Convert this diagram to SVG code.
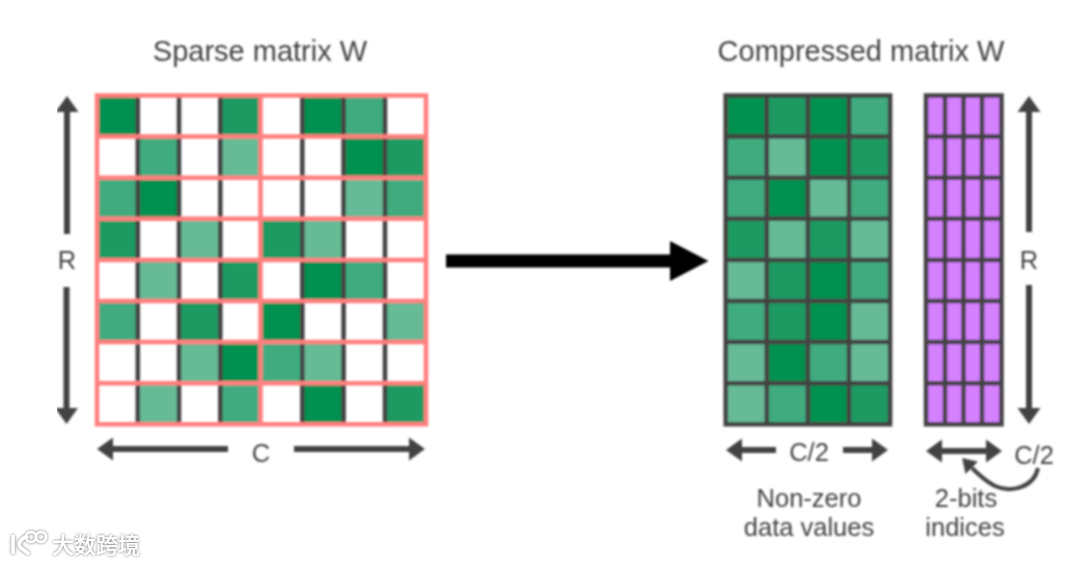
<svg xmlns="http://www.w3.org/2000/svg" width="1080" height="565" viewBox="0 0 1080 565">
<style>
text{font-family:"Liberation Sans",Arial,sans-serif;fill:#434343;text-anchor:middle}
.t{font-size:29px}.l{font-size:25.500px}
.a{fill:#00904f}.b{fill:#1a9a62}.c{fill:#40ab7f}.d{fill:#66ba96}.p{fill:#d580ff}
.g rect{width:41.2px;height:41.2px}
.dk{stroke:#434343;stroke-width:4.500;fill:none}
.pk{stroke:#ff7f7f;stroke-width:4.500;fill:none}
.ar{stroke:#434343;stroke-width:6;fill:none}
.wm{font-size:22px;fill:#fff;font-family:"Noto Sans CJK SC",sans-serif;font-weight:500}
</style>
<defs>
<marker id="h" markerUnits="userSpaceOnUse" markerWidth="18" markerHeight="26" viewBox="0 -13 18 26" refX="0" refY="0" orient="auto-start-reverse"><path d="M0-11.500L16 0L0 11.500Z" fill="#434343"/></marker>
<marker id="hs" markerUnits="userSpaceOnUse" markerWidth="18" markerHeight="22" viewBox="0 -11 18 22" refX="0" refY="0" orient="auto"><path d="M0-9L14 0L0 9Z" fill="#434343"/></marker>
<filter id="blur" x="0" y="0" width="1" height="1"><feGaussianBlur stdDeviation="0.8"/></filter>
<filter id="wms" x="-10%" y="-20%" width="120%" height="140%"><feDropShadow dx="0" dy="0" stdDeviation="1.500" flood-color="#666" flood-opacity="1"/></filter>
</defs>
<rect width="1080" height="565" fill="#fff"/>
<g filter="url(#blur)">
<g id="sparse-matrix">
<text class="t" x="260" y="61">Sparse matrix W</text>
<g class="g">
<rect class="a" x="97" y="95.500"/><rect class="b" x="220" y="95.500"/><rect class="a" x="302" y="95.500"/><rect class="c" x="343" y="95.500"/>
<rect class="c" x="138" y="136.600"/><rect class="d" x="220" y="136.600"/><rect class="a" x="343" y="136.600"/><rect class="b" x="384" y="136.600"/>
<rect class="c" x="97" y="177.700"/><rect class="a" x="138" y="177.700"/><rect class="d" x="343" y="177.700"/><rect class="c" x="384" y="177.700"/>
<rect class="b" x="97" y="218.800"/><rect class="d" x="179" y="218.800"/><rect class="b" x="261" y="218.800"/><rect class="d" x="302" y="218.800"/>
<rect class="d" x="138" y="259.900"/><rect class="b" x="220" y="259.900"/><rect class="a" x="302" y="259.900"/><rect class="c" x="343" y="259.900"/>
<rect class="c" x="97" y="301"/><rect class="b" x="179" y="301"/><rect class="a" x="261" y="301"/><rect class="d" x="384" y="301"/>
<rect class="d" x="179" y="342.100"/><rect class="a" x="220" y="342.100"/><rect class="c" x="261" y="342.100"/><rect class="d" x="302" y="342.100"/>
<rect class="d" x="138" y="383.200"/><rect class="c" x="220" y="383.200"/><rect class="a" x="302" y="383.200"/><rect class="b" x="384" y="383.200"/>
</g>
<path class="dk" d="M137.800 96V424M179 96V424M220.300 96V424M302.300 96V424M343.600 96V424M385 96V424"/>
<path class="pk" d="M97 136.600H426M97 177.700H426M97 218.800H426M97 259.900H426M97 301H426M97 342.100H426M97 383.200H426M260.500 96V424"/>
<rect class="pk" x="97" y="95.500" width="329" height="328.800"/>
</g>
<g id="compressed-matrix">
<text class="t" x="861" y="61">Compressed matrix W</text>
<g class="g">
<rect class="a" x="725.700" y="95.500"/><rect class="b" x="766.800" y="95.500"/><rect class="a" x="807.900" y="95.500"/><rect class="c" x="849" y="95.500"/>
<rect class="c" x="725.700" y="136.600"/><rect class="d" x="766.800" y="136.600"/><rect class="a" x="807.900" y="136.600"/><rect class="b" x="849" y="136.600"/>
<rect class="c" x="725.700" y="177.700"/><rect class="a" x="766.800" y="177.700"/><rect class="d" x="807.900" y="177.700"/><rect class="c" x="849" y="177.700"/>
<rect class="b" x="725.700" y="218.800"/><rect class="d" x="766.800" y="218.800"/><rect class="b" x="807.900" y="218.800"/><rect class="d" x="849" y="218.800"/>
<rect class="d" x="725.700" y="259.900"/><rect class="b" x="766.800" y="259.900"/><rect class="a" x="807.900" y="259.900"/><rect class="c" x="849" y="259.900"/>
<rect class="c" x="725.700" y="301"/><rect class="b" x="766.800" y="301"/><rect class="a" x="807.900" y="301"/><rect class="d" x="849" y="301"/>
<rect class="d" x="725.700" y="342.100"/><rect class="a" x="766.800" y="342.100"/><rect class="c" x="807.900" y="342.100"/><rect class="d" x="849" y="342.100"/>
<rect class="d" x="725.700" y="383.200"/><rect class="c" x="766.800" y="383.200"/><rect class="a" x="807.900" y="383.200"/><rect class="b" x="849" y="383.200"/>
</g>
<path class="dk" d="M725.700 136.600H890M725.700 177.700H890M725.700 218.800H890M725.700 259.900H890M725.700 301H890M725.700 342.100H890M725.700 383.200H890M766.800 95.500V424M807.900 95.500V424M849 95.500V424"/>
<rect class="dk" x="725.700" y="95.500" width="164.400" height="328.800"/>
</g>
<g id="index-matrix">
<rect class="p" x="926" y="95.500" width="75.500" height="328.800"/>
<path class="dk" d="M926 136.600H1001.500M926 177.700H1001.500M926 218.800H1001.500M926 259.900H1001.500M926 301H1001.500M926 342.100H1001.500M926 383.200H1001.500M945 95.500V424M963.500 95.500V424M982 95.500V424"/>
<rect class="dk" x="926" y="95.500" width="75.500" height="328.800"/>
</g>
<g id="connectors">
<path d="M446 261H671" stroke="#000" stroke-width="13" fill="none"/>
<path d="M670 241L708.500 261L670 281Z" fill="#000"/>
<path class="ar" marker-end="url(#h)" d="M67 234V112"/>
<path class="ar" marker-end="url(#h)" d="M66.500 287V408"/>
<path class="ar" marker-end="url(#h)" d="M228 449H113"/>
<path class="ar" marker-end="url(#h)" d="M294 449H409"/>
<path class="ar" marker-end="url(#h)" d="M776 450H742"/>
<path class="ar" marker-end="url(#h)" d="M843 450H872"/>
<path class="ar" marker-start="url(#h)" marker-end="url(#h)" d="M942 451H986"/>
<path class="ar" marker-end="url(#h)" d="M1029 232V112"/>
<path class="ar" marker-end="url(#h)" d="M1029 285V408"/>
<path class="ar" style="stroke-width:4" marker-end="url(#hs)" d="M1038 468C1034 488 1010 493 995 486C987 482 980 476 972 468"/>
</g>
<g id="labels">
<text class="l" x="67" y="269">R</text>
<text class="l" x="261" y="462">C</text>
<text class="l" x="809" y="461">C/2</text>
<text class="l" x="1034" y="464">C/2</text>
<text class="l" x="1029" y="269">R</text>
<text class="l" x="809" y="507">Non-zero</text>
<text class="l" x="809" y="536">data values</text>
<text class="l" x="966" y="507">2-bits</text>
<text class="l" x="965" y="536">indices</text>
</g>
</g>
<g id="watermark" filter="url(#wms)">
<path d="M13 535V554M28 536C20 539 17 544 21 548L29 554" fill="none" stroke="#fff" stroke-width="3.500"/>
<circle cx="31" cy="537" r="5" fill="none" stroke="#fff" stroke-width="2.500"/>
<circle cx="41" cy="537" r="5" fill="none" stroke="#fff" stroke-width="2.500"/>
<text class="wm" x="96" y="553">大数跨境</text>
</g>
</svg>
